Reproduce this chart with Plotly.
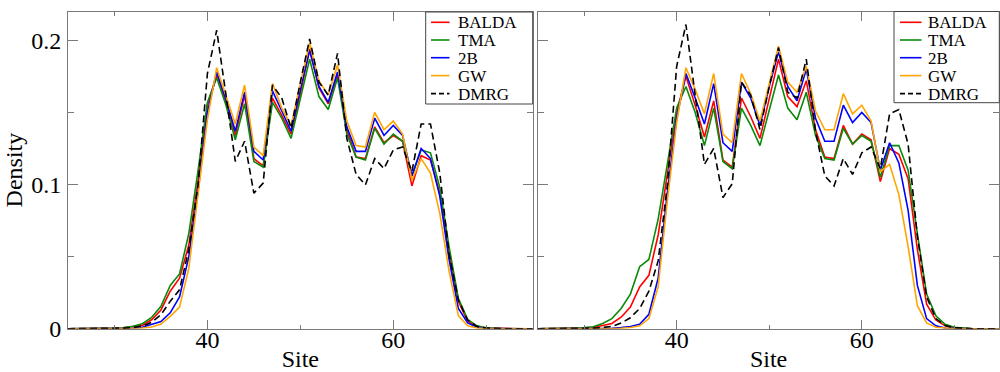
import plotly.graph_objects as go

# ---------------- data ----------------
sites = list(range(25, 76))

left_balda = [0, 0, 0, 0, 0.0001, 0.0003, 0.0007, 0.0013, 0.0023, 0.0062,
              0.013, 0.026, 0.035, 0.058, 0.103, 0.155, 0.176, 0.157, 0.134, 0.162,
              0.118, 0.113, 0.160, 0.148, 0.135, 0.163, 0.194, 0.167, 0.156, 0.176,
              0.138, 0.119, 0.118, 0.140, 0.129, 0.134, 0.130, 0.099, 0.120, 0.117,
              0.094, 0.052, 0.019, 0.005, 0.0015, 0.0005, 0.0002, 0, 0, 0,
              0]
left_tma = [0, 0, 0, 0, 0.0001, 0.0004, 0.0008, 0.0016, 0.0035, 0.0078,
            0.0155, 0.030, 0.038, 0.066, 0.110, 0.157, 0.174, 0.155, 0.131, 0.156,
            0.116, 0.112, 0.157, 0.146, 0.132, 0.160, 0.187, 0.161, 0.152, 0.174,
            0.135, 0.119, 0.117, 0.139, 0.128, 0.135, 0.130, 0.106, 0.124, 0.122,
            0.098, 0.057, 0.021, 0.0065, 0.002, 0.0007, 0.0002, 0, 0, 0,
            0]
left_2b = [0, 0, 0, 0, 0, 0.0001, 0.0002, 0.0005, 0.001, 0.0028,
           0.005, 0.011, 0.022, 0.050, 0.096, 0.150, 0.178, 0.159, 0.137, 0.164,
           0.123, 0.117, 0.165, 0.151, 0.137, 0.166, 0.193, 0.168, 0.157, 0.178,
           0.140, 0.123, 0.123, 0.146, 0.134, 0.141, 0.134, 0.106, 0.125, 0.118,
           0.092, 0.048, 0.014, 0.004, 0.001, 0.0003, 0.0001, 0, 0, 0,
           0]
left_gw = [0, 0, 0, 0, 0, 0, 0.0001, 0.0002, 0.0005, 0.0012,
           0.0032, 0.0086, 0.015, 0.042, 0.092, 0.145, 0.181, 0.162, 0.142, 0.169,
           0.126, 0.120, 0.170, 0.153, 0.141, 0.170, 0.198, 0.172, 0.162, 0.183,
           0.144, 0.127, 0.126, 0.150, 0.138, 0.144, 0.135, 0.103, 0.118, 0.108,
           0.080, 0.040, 0.009, 0.002, 0.0005, 0.0001, 0, 0, 0, 0,
           0]
left_dmrg = [0, 0, 0, 0, 0.0001, 0.0002, 0.0004, 0.0008, 0.0018, 0.0044,
             0.0097, 0.019, 0.027, 0.055, 0.100, 0.177, 0.207, 0.162, 0.116, 0.130,
             0.094, 0.101, 0.169, 0.160, 0.139, 0.171, 0.201, 0.171, 0.162, 0.191,
             0.132, 0.107, 0.0997, 0.118, 0.111, 0.124, 0.126, 0.109, 0.142, 0.142,
             0.108, 0.052, 0.020, 0.006, 0.0016, 0.0005, 0.0001, 0, 0, 0,
             0]

right_balda = [0, 0, 0, 0, 0.0002, 0.0004, 0.0008, 0.002, 0.0036, 0.008,
               0.015, 0.029, 0.037, 0.065, 0.107, 0.150, 0.175, 0.155, 0.133, 0.158,
               0.117, 0.112, 0.160, 0.147, 0.132, 0.160, 0.187, 0.161, 0.154, 0.172,
               0.138, 0.119, 0.118, 0.141, 0.128, 0.135, 0.131, 0.102, 0.125, 0.121,
               0.104, 0.055, 0.017, 0.006, 0.002, 0.0007, 0.0002, 0, 0, 0,
               0]
right_tma = [0, 0, 0, 0.0002, 0.0005, 0.0008, 0.0013, 0.0036, 0.007, 0.014,
             0.024, 0.043, 0.048, 0.076, 0.116, 0.153, 0.168, 0.150, 0.127, 0.153,
             0.116, 0.111, 0.153, 0.141, 0.127, 0.152, 0.176, 0.153, 0.145, 0.164,
             0.134, 0.118, 0.117, 0.139, 0.128, 0.134, 0.130, 0.105, 0.127, 0.127,
             0.110, 0.066, 0.024, 0.009, 0.003, 0.001, 0.0003, 0, 0, 0,
             0]
right_2b = [0, 0, 0, 0, 0, 0, 0, 0.0001, 0.0003, 0.0008,
            0.0015, 0.003, 0.010, 0.035, 0.095, 0.146, 0.177, 0.160, 0.142, 0.170,
            0.129, 0.123, 0.171, 0.160, 0.141, 0.168, 0.192, 0.168, 0.158, 0.180,
            0.146, 0.130, 0.130, 0.155, 0.143, 0.150, 0.143, 0.110, 0.129, 0.115,
            0.082, 0.030, 0.007, 0.002, 0.0005, 0.0001, 0, 0, 0, 0,
            0]
right_gw = [0, 0, 0, 0, 0, 0, 0, 0, 0.0001, 0.0003,
            0.0008, 0.002, 0.007, 0.029, 0.089, 0.143, 0.181, 0.166, 0.149, 0.177,
            0.135, 0.129, 0.177, 0.163, 0.144, 0.171, 0.196, 0.171, 0.164, 0.182,
            0.151, 0.138, 0.138, 0.163, 0.149, 0.155, 0.144, 0.109, 0.114, 0.093,
            0.057, 0.016, 0.004, 0.001, 0.0003, 0, 0, 0, 0, 0,
            0]
right_dmrg = [0, 0, 0, 0, 0.0001, 0.0002, 0.0004, 0.0008, 0.0016, 0.0039,
              0.0076, 0.014, 0.026, 0.047, 0.100, 0.182, 0.211, 0.162, 0.114, 0.125,
              0.091, 0.1005, 0.171, 0.162, 0.138, 0.168, 0.195, 0.164, 0.160, 0.187,
              0.137, 0.106, 0.099, 0.118, 0.107, 0.122, 0.126, 0.111, 0.149, 0.152,
              0.128, 0.064, 0.022, 0.007, 0.0022, 0.0007, 0.0002, 0, 0, 0,
              0]

method_names = ["BALDA", "TMA", "2B", "GW", "DMRG"]
method_colors = ["#ff0000", "#0a8a0a", "#0000ff", "#ffa500", "#000000"]
method_dash = ["solid", "solid", "solid", "solid", "7px,4px"]

x_ticks = [40, 60]
y_ticks = [0, 0.1, 0.2]

# ---------------- figure ----------------
W, H = 1000, 372
SERIF = "Liberation Serif, Times New Roman, serif"
FRAME = "#7a7a7a"

fig = go.Figure()

panels = [
    ("x", "y", [left_balda, left_tma, left_2b, left_gw, left_dmrg]),
    ("x2", "y2", [right_balda, right_tma, right_2b, right_gw, right_dmrg]),
]
for xa, ya, series in panels:
    for name, vals, col, dash in zip(method_names, series, method_colors, method_dash):
        fig.add_trace(go.Scatter(
            x=sites, y=vals, name=name, mode="lines", xaxis=xa, yaxis=ya,
            line=dict(color=col, width=1.6, dash=dash), showlegend=False,
        ))

def px2x(p):
    return p / W

def px2y(p):
    return 1 - p / H

axis_common = dict(
    showline=True, linecolor=FRAME, linewidth=1, mirror="allticks",
    ticks="inside", tickcolor=FRAME, tickwidth=1, showgrid=False, zeroline=False,
    automargin=False,
    tickfont=dict(family=SERIF, size=24, color="black"),
)

y_dom = [px2y(328.7), px2y(11.5)]
title_font = dict(family=SERIF, size=24, color="black")

fig.update_layout(
    width=W, height=H,
    margin=dict(l=0, r=0, t=0, b=0, autoexpand=False),
    paper_bgcolor="white", plot_bgcolor="white",
    showlegend=False,
    xaxis=dict(domain=[px2x(68), px2x(532.7)], range=[25, 75],
               tickvals=x_ticks, ticklen=9, anchor="y",
               minor=dict(ticks="inside", tick0=0, dtick=10, ticklen=4, tickcolor=FRAME),
               title=dict(text="Site", font=title_font, standoff=13),
               ticklabelstandoff=-11,
               **axis_common),
    xaxis2=dict(domain=[px2x(537.8), px2x(999.3)], range=[25, 74.85],
                tickvals=x_ticks, ticklen=9, anchor="y2",
                minor=dict(ticks="inside", tick0=0, dtick=10, ticklen=4, tickcolor=FRAME),
                title=dict(text="Site", font=title_font, standoff=13),
                ticklabelstandoff=-11,
                **axis_common),
    yaxis=dict(domain=y_dom, range=[0, 0.22], tickvals=y_ticks, ticklen=10, anchor="x",
               minor=dict(ticks="inside", tick0=0, dtick=0.05, ticklen=6, tickcolor=FRAME),
               title=dict(text="Density", font=title_font, standoff=1),
               ticklabelstandoff=1,
               **axis_common),
    yaxis2=dict(domain=y_dom, range=[0, 0.22], tickvals=y_ticks, ticklen=10, anchor="x2",
                showticklabels=False,
                minor=dict(ticks="inside", tick0=0, dtick=0.05, ticklen=6, tickcolor=FRAME),
                **axis_common),
)

# ---------------- custom legends (one per panel) ----------------
legend_specs = [
    dict(bx0=425.7, bx1=532.7, by0=12, by1=104, lx0=431, lx1=449.5, tx=457),
    dict(bx0=894, bx1=999.3, by0=11.5, by1=102.7, lx0=900, lx1=921.5, tx=927),
]
entry_y = [22.3, 40.0, 57.7, 75.6, 93.6]

for spec in legend_specs:
    fig.add_shape(type="rect", xref="paper", yref="paper",
                  x0=px2x(spec["bx0"]), x1=px2x(spec["bx1"]),
                  y0=px2y(spec["by1"]), y1=px2y(spec["by0"]),
                  line=dict(color="#444444", width=1), fillcolor="white", layer="above")
    for name, col, dash, ey in zip(method_names, method_colors, method_dash, entry_y):
        fig.add_shape(type="line", xref="paper", yref="paper",
                      x0=px2x(spec["lx0"]), x1=px2x(spec["lx1"]),
                      y0=px2y(ey), y1=px2y(ey),
                      line=dict(color=col, width=1.6, dash=("solid" if dash == "solid" else "5px,3px")),
                      layer="above")
        fig.add_annotation(xref="paper", yref="paper", x=px2x(spec["tx"]), y=px2y(ey + 0.5),
                           text=name, showarrow=False, xanchor="left", yanchor="middle",
                           borderpad=0,
                           font=dict(family=SERIF, size=17, color="black"))

fig.write_html("out.html")
